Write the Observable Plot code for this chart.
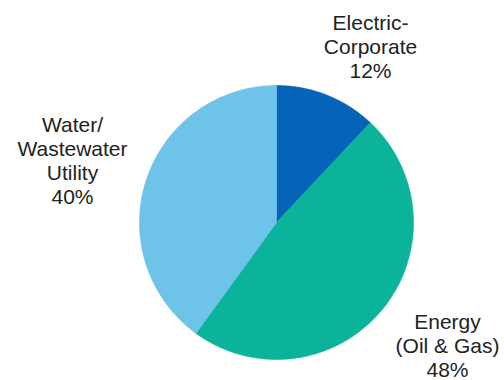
<!DOCTYPE html>
<html>
<head>
<meta charset="utf-8">
<script src="https://cdn.jsdelivr.net/npm/d3@7"></script>
<script src="https://cdn.jsdelivr.net/npm/@observablehq/plot@0.6"></script>
<style>
  html, body { margin: 0; padding: 0; background: #fff; }
</style>
</head>
<body>
<div id="chart"></div>
<script>
// Data
const categories = ["Electric-Corporate", "Energy (Oil & Gas)", "Water/Wastewater Utility"];
const labelTexts = ["Electric-\nCorporate", "Energy\n(Oil & Gas)", "Water/\nWastewater\nUtility"];
const shares = [12, 48, 40];
const colors = ["#0563b8", "#0bb39b", "#6ec3e9"];

// Layout (label anchors in radius units, relative to pie centre)
const labelAnchor = [[0.686, 1.532], [1.248, -0.656], [-1.489, 0.788]];

// Build slice polygons from the shares (clockwise from 12 o'clock)
const total = d3.sum(shares);
const pts = [];
let acc = 0;
shares.forEach((v, i) => {
  const a0 = acc / total * 2 * Math.PI;
  acc += v;
  const a1 = acc / total * 2 * Math.PI;
  pts.push({cat: categories[i], x: 0, y: 0});
  const n = Math.max(2, Math.ceil((a1 - a0) / (Math.PI / 360)));
  for (let k = 0; k <= n; k++) {
    const a = a0 + (a1 - a0) * k / n;
    pts.push({cat: categories[i], x: Math.sin(a), y: Math.cos(a)});
  }
  pts.push({cat: categories[i], x: 0, y: 0});
});

const labels = categories.map((c, i) => ({
  cat: c,
  text: `${labelTexts[i]}\n${shares[i]}%`,
  x: labelAnchor[i][0],
  y: labelAnchor[i][1]
}));

const chart = Plot.plot({
  width: 504,
  height: 380,
  margin: 0,
  x: {domain: [-1, 1], range: [139, 413], axis: null},
  y: {domain: [-1, 1], range: [359, 85], axis: null},
  color: {domain: categories, range: colors},
  style: {fontFamily: "'Liberation Sans', Arial, sans-serif", background: "#fff"},
  marks: [
    Plot.line(pts, {x: "x", y: "y", z: "cat", fill: "cat", stroke: "cat", strokeWidth: 0.6, curve: "linear"}),
    Plot.text(labels, {
      x: "x", y: "y", text: "text",
      fontSize: 21, lineHeight: 1.143, lineAnchor: "top",
      textAnchor: "middle", fill: "#222"
    })
  ]
});
document.getElementById("chart").appendChild(chart);
</script>
</body>
</html>
